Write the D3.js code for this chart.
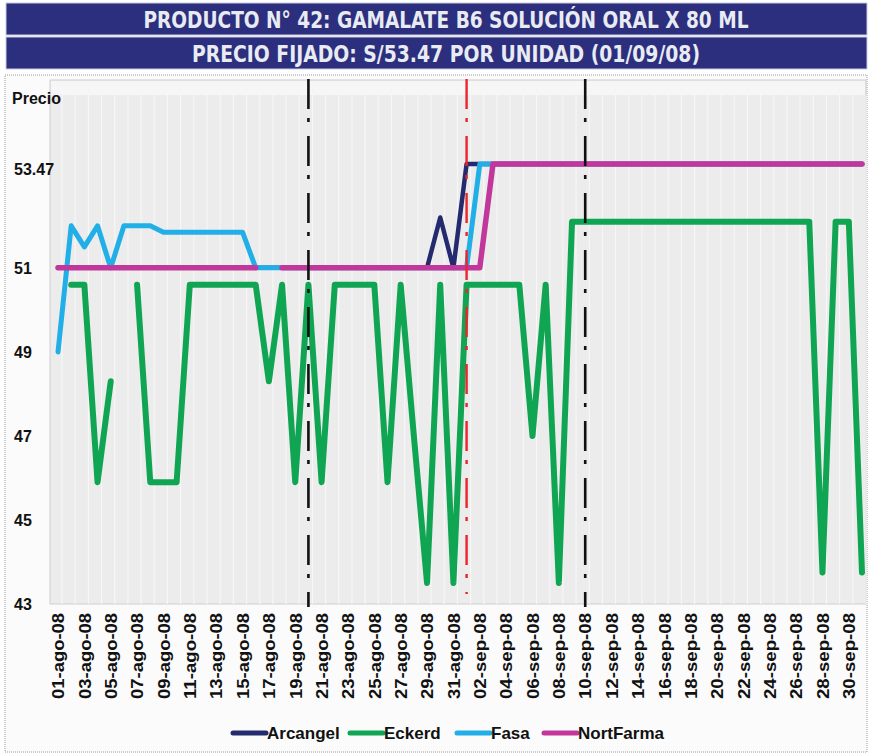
<!DOCTYPE html>
<html>
<head>
<meta charset="utf-8">
<script src="https://cdn.jsdelivr.net/npm/d3@7"></script>
<style>
  body { margin: 0; background: #ffffff; }
  svg { display: block; font-family: "Liberation Sans", Arial, sans-serif; }
</style>
</head>
<body>
<div id="chart"></div>
<script>
// categorias (dias)
var fechas = [
  "01-ago-08","02-ago-08","03-ago-08","04-ago-08","05-ago-08","06-ago-08","07-ago-08","08-ago-08","09-ago-08","10-ago-08",
  "11-ago-08","12-ago-08","13-ago-08","14-ago-08","15-ago-08","16-ago-08","17-ago-08","18-ago-08","19-ago-08","20-ago-08",
  "21-ago-08","22-ago-08","23-ago-08","24-ago-08","25-ago-08","26-ago-08","27-ago-08","28-ago-08","29-ago-08","30-ago-08",
  "31-ago-08","01-sep-08","02-sep-08","03-sep-08","04-sep-08","05-sep-08","06-sep-08","07-sep-08","08-sep-08","09-sep-08",
  "10-sep-08","11-sep-08","12-sep-08","13-sep-08","14-sep-08","15-sep-08","16-sep-08","17-sep-08","18-sep-08","19-sep-08",
  "20-sep-08","21-sep-08","22-sep-08","23-sep-08","24-sep-08","25-sep-08","26-sep-08","27-sep-08","28-sep-08","29-sep-08",
  "30-sep-08","01-oct-08"
];

var arcangel = [
  51,51,51,51,51,51,51,51,51,51,
  51,51,51,51,51,51,51,51,51,51,
  51,51,51,51,51,51,51,51,51,52.2,
  51,53.47,53.47,53.47,53.47,53.47,53.47,53.47,53.47,53.47,
  53.47,53.47,53.47,53.47,53.47,53.47,53.47,53.47,53.47,53.47,
  53.47,53.47,53.47,53.47,53.47,53.47,53.47,53.47,53.47,53.47,
  53.47,53.47
];

var eckerd = [
  null,50.6,50.6,45.9,48.3,null,50.6,45.9,45.9,45.9,
  50.6,50.6,50.6,50.6,50.6,50.6,48.3,50.6,45.9,50.6,
  45.9,50.6,50.6,50.6,50.6,45.9,50.6,47.0,43.5,50.6,
  43.5,50.6,50.6,50.6,50.6,50.6,47.0,50.6,43.5,52.1,
  52.1,52.1,52.1,52.1,52.1,52.1,52.1,52.1,52.1,52.1,
  52.1,52.1,52.1,52.1,52.1,52.1,52.1,52.1,43.75,52.1,
  52.1,43.75
];

var fasa = [
  49.0,52.0,51.5,52.0,51.0,52.0,52.0,52.0,51.85,51.85,
  51.85,51.85,51.85,51.85,51.85,51,51,51,51,51,
  51,51,51,51,51,51,51,51,51,51,
  51,51,53.47,53.47,53.47,53.47,53.47,53.47,53.47,53.47,
  53.47,53.47,53.47,53.47,53.47,53.47,53.47,53.47,53.47,53.47,
  53.47,53.47,53.47,53.47,53.47,53.47,53.47,53.47,53.47,53.47,
  53.47,53.47
];

var nortfarma = [
  51,51,51,51,51,51,51,51,51,51,
  51,51,51,51,51,51,null,51,51,51,
  51,51,51,51,51,51,51,51,51,51,
  51,51,51,53.47,53.47,53.47,53.47,53.47,53.47,53.47,
  53.47,53.47,53.47,53.47,53.47,53.47,53.47,53.47,53.47,53.47,
  53.47,53.47,53.47,53.47,53.47,53.47,53.47,53.47,53.47,53.47,
  53.47,53.47
];

var series = ["Arcangel", "Eckerd", "Fasa", "NortFarma"];
var valoresY = [43, 45, 47, 49, 51, 53.47];
var fechasMarca = ["20-ago-08", "01-sep-08", "10-sep-08"];

var titulo1 = "PRODUCTO N° 42: GAMALATE B6 SOLUCIÓN ORAL X 80 ML";
var titulo2 = "PRECIO FIJADO: S/53.47 POR UNIDAD (01/09/08)";

var colores = {Arcangel: "#232a6e", Eckerd: "#0fa552", Fasa: "#22aee6", NortFarma: "#c2379c"};
var datos = {Arcangel: arcangel, Eckerd: eckerd, Fasa: fasa, NortFarma: nortfarma};

var width = 873, height = 755;

var svg = d3.select("#chart")
  .append("svg")
    .attr("width", width)
    .attr("height", height);

// title bars
var barras = [{t: titulo1, y: 3, w: 605}, {t: titulo2, y: 37, w: 508}];
barras.forEach(function(b) {
  svg.append("rect")
    .attr("x", 6).attr("y", b.y)
    .attr("width", 861).attr("height", 32)
    .attr("fill", "#2c2f7e")
    .attr("stroke", "#c9cbe0").attr("stroke-width", 1);
  svg.append("text")
    .attr("x", 446).attr("y", b.y + 25)
    .attr("text-anchor", "middle")
    .attr("textLength", b.w)
    .attr("lengthAdjust", "spacingAndGlyphs")
    .style("font-family", "'Liberation Sans Narrow', 'DejaVu Sans Condensed', 'Open Sans', sans-serif")
    .style("font-weight", "bold")
    .style("font-size", "23px")
    .attr("fill", "#e9ebf3")
    .text(b.t);
});

// outer frame
svg.append("rect")
  .attr("x", 5).attr("y", 75)
  .attr("width", 862).attr("height", 677)
  .attr("fill", "#fbfbfb")
  .attr("stroke", "#9a9a9a")
  .attr("stroke-dasharray", "1,1");

var margin = {left: 50, right: 866, top: 80, bottom: 604};

var x = d3.scalePoint()
  .domain(fechas)
  .range([58, 862]);

var y = d3.scaleLinear()
  .domain([43, 55.4])
  .range([604, 83]);

// plot area
svg.append("rect")
  .attr("x", margin.left).attr("y", margin.top)
  .attr("width", margin.right - margin.left)
  .attr("height", margin.bottom - margin.top)
  .attr("fill", "#ececec")
  .attr("stroke", "#cfcfcf");

// lighter band at the top of the plot
svg.append("rect")
  .attr("x", margin.left + 1).attr("y", margin.top + 1)
  .attr("width", margin.right - margin.left - 2)
  .attr("height", 14)
  .attr("fill", "#f6f6f6");

// faint vertical stripes
svg.append("g")
  .selectAll("line")
  .data(fechas)
  .enter()
  .append("line")
    .attr("x1", function(d) { return x(d) + 4; })
    .attr("x2", function(d) { return x(d) + 4; })
    .attr("y1", margin.top + 15)
    .attr("y2", margin.bottom)
    .attr("stroke", "#fafafa")
    .attr("stroke-width", 1.2)
    .attr("opacity", 0.8);

// Y axis (labels left aligned)
var ejeY = svg.append("g")
  .attr("transform", "translate(14,0)")
  .call(d3.axisRight(y).tickValues(valoresY).tickSize(0).tickPadding(0)
    .tickFormat(function(d) { return String(d); }));
ejeY.select(".domain").remove();
ejeY.selectAll("text")
  .style("font-size", "16px")
  .style("font-weight", "bold")
  .attr("fill", "#111")
  .attr("dy", function(d) { return d === 53.47 ? "0.65em" : "0.35em"; });

svg.append("text")
  .attr("x", 12).attr("y", 104)
  .style("font-size", "16px")
  .style("font-weight", "bold")
  .attr("fill", "#111")
  .text("Precio");

// X axis
var ejeX = svg.append("g")
  .attr("transform", "translate(0," + margin.bottom + ")")
  .call(d3.axisBottom(x)
    .tickValues(fechas.filter(function(d, i) { return i % 2 === 0; }))
    .tickSize(0));
ejeX.select(".domain").remove();
ejeX.selectAll("text")
  .attr("transform", "rotate(-90)")
  .attr("x", -9)
  .attr("y", 0)
  .attr("dy", "0.36em")
  .attr("text-anchor", "end")
  .attr("textLength", 86)
  .attr("lengthAdjust", "spacingAndGlyphs")
  .style("font-size", "16px")
  .style("font-weight", "bold")
  .attr("fill", "#111");

// Lines
var linea = d3.line()
  .defined(function(d) { return d != null; })
  .x(function(d, i) { return x(fechas[i]); })
  .y(function(d) { return y(d); });

var grosor = {Arcangel: 4.5, Eckerd: 6, Fasa: 5, NortFarma: 5.5};
series.forEach(function(s) {
  svg.append("path")
    .datum(datos[s])
    .attr("fill", "none")
    .attr("stroke", colores[s])
    .attr("stroke-width", grosor[s])
    .attr("stroke-linejoin", "round")
    .attr("stroke-linecap", "round")
    .attr("d", linea);
});

// dash-dot markers
svg.selectAll("marca")
  .data(fechasMarca)
  .enter()
  .append("line")
    .attr("x1", function(d) { return x(d); })
    .attr("x2", function(d) { return x(d); })
    .attr("y1", 79)
    .attr("y2", function(d) { return d === "01-sep-08" ? 594 : 607; })
    .attr("stroke", function(d) { return d === "01-sep-08" ? "#e8262c" : "#111"; })
    .attr("stroke-width", function(d) { return d === "01-sep-08" ? 2.4 : 2.6; })
    .attr("stroke-dasharray", "30,9,4,14");

// Legend
var posLeyenda = {Arcangel: 233, Eckerd: 350, Fasa: 457, NortFarma: 544};
var leyenda = svg.append("g");
series.forEach(function(s) {
  leyenda.append("line")
    .attr("x1", posLeyenda[s]).attr("x2", posLeyenda[s] + 33)
    .attr("y1", 733).attr("y2", 733)
    .attr("stroke", colores[s])
    .attr("stroke-width", 5)
    .attr("stroke-linecap", "round");
  leyenda.append("text")
    .attr("x", posLeyenda[s] + 34).attr("y", 739)
    .style("font-size", "17px")
    .style("font-weight", "bold")
    .attr("fill", "#111")
    .text(s);
});
</script>
</body>
</html>
